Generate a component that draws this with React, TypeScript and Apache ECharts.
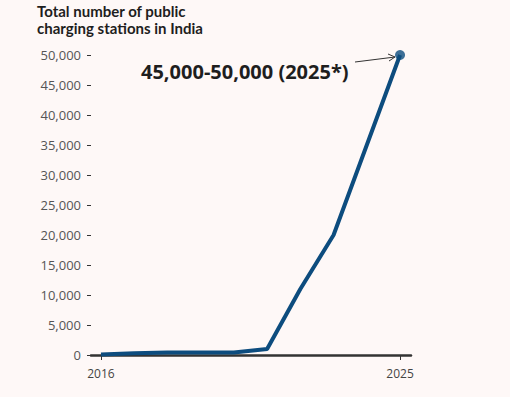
import React, { useEffect, useRef } from "react";
import * as echarts from "echarts";

const years = [2016, 2017, 2018, 2019, 2020, 2021, 2022, 2023, 2024, 2025];
const stations = [100, 300, 400, 400, 400, 1000, 11000, 20000, 35000, 50000];
const xTickLabels = [2016, 2025];
const titleLines = ["Total number of public", "charging stations in India"];
const annotationText = "45,000-50,000 (2025*)";

export default function App() {
  const ref = useRef<HTMLDivElement>(null);
  useEffect(() => {
    if (!ref.current) return;
    const chart = echarts.init(ref.current, null, { renderer: "svg" });
    const data = years.map((y, i) => [y, stations[i]]);
    chart.setOption({
      animation: false,
      backgroundColor: "#fef8f7",
      textStyle: { fontFamily: "Open Sans" },
      grid: { left: 91, right: 99, top: 55, bottom: 42 },
      xAxis: {
        type: "value",
        min: 2015.7,
        max: 2025.33,
        splitLine: { show: false },
        axisLine: { show: true, lineStyle: { color: "#333", width: 2.5 } },
        axisTick: { show: true, length: 5, lineStyle: { color: "#333", width: 1 }, customValues: xTickLabels },
        axisLabel: { customValues: xTickLabels, fontSize: 12, color: "#444", margin: 12, formatter: (v: number) => String(v) },
      },
      yAxis: {
        type: "value",
        min: 0,
        max: 50000,
        interval: 5000,
        splitLine: { show: false },
        axisLine: { show: false },
        axisTick: { show: true, length: 4, lineStyle: { color: "#333", width: 1 } },
        axisLabel: {
          fontSize: 13,
          color: "#555",
          margin: 10,
          formatter: (v: number) => v.toLocaleString("en-US"),
        },
      },
      series: [
        {
          type: "line",
          data,
          symbol: "none",
          lineStyle: { color: "#0d4c7e", width: 4 },
          z: 3,
        },
        {
          type: "scatter",
          data: [data[data.length - 1]],
          symbolSize: 10,
          itemStyle: { color: "#0d4c7e" },
          z: 4,
        },
      ],
      graphic: [
        {
          type: "text",
          left: 37,
          top: 3,
          style: { text: titleLines[0], fontSize: 15, fontWeight: "bold", fill: "#1e1e1e", fontFamily: "Lato" },
        },
        {
          type: "text",
          left: 37,
          top: 20,
          style: { text: titleLines[1], fontSize: 15, fontWeight: "bold", fill: "#1e1e1e", fontFamily: "Lato" },
        },
        {
          type: "text",
          left: 141,
          top: 61,
          style: { text: annotationText, fontSize: 20, fontWeight: "bold", fill: "#1e1e1e", fontFamily: "Open Sans" },
        },
        {
          type: "line",
          shape: { x1: 355, y1: 62, x2: 395, y2: 57 },
          style: { stroke: "#333", lineWidth: 1 },
        },
        {
          type: "polyline",
          shape: { points: [[388, 54], [395, 57], [389, 61]] },
          style: { stroke: "#333", lineWidth: 1, fill: null },
        },
      ],
    });
    return () => chart.dispose();
  }, []);
  return <div ref={ref} style={{ position: "fixed", left: 0, top: 0, width: 510, height: 397 }} />;
}
